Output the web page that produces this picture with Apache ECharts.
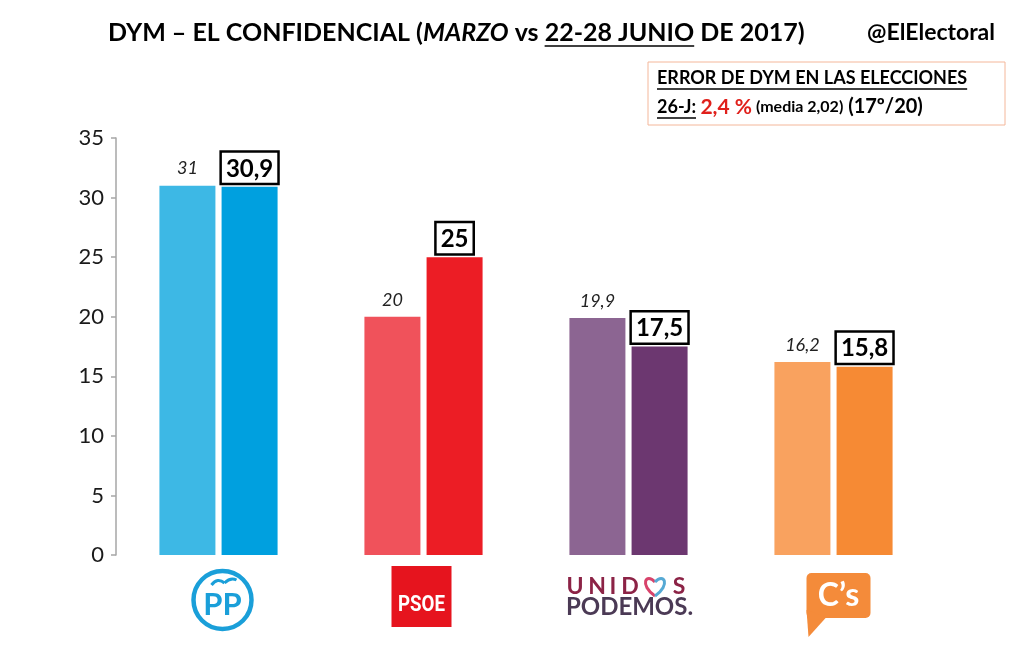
<!DOCTYPE html>
<html><head><meta charset="utf-8">
<script src="https://cdn.jsdelivr.net/npm/echarts@6/dist/echarts.min.js"></script>
<style>html,body{margin:0;padding:0;background:#fff}#c{width:1025px;height:650px}</style>
</head><body><div id="c"></div>
<script>
const categories = ['PP', 'PSOE', 'Unidos Podemos', 'Ciudadanos'];
const marzo = [31, 20, 19.9, 16.2];
const junio = [30.9, 25, 17.5, 15.8];
const yTicks = [0, 5, 10, 15, 20, 25, 30, 35];
const colorsMarzo = ['#3DB8E5', '#F0525B', '#8C6592', '#F9A25F'];
const colorsJunio = ['#00A0DF', '#EC1D25', '#6C3770', '#F68A34'];

const FONT = 'Lato, "Open Sans", sans-serif';
const chart = echarts.init(document.getElementById('c'), null, {renderer: 'canvas'});
const fmt = v => String(v).replace('.', ',');
const cv = document.createElement('canvas').getContext('2d');

function seq(x, y, segs) {
  const els = []; let cx = x;
  segs.forEach(s => {
    const font = (s.italic ? 'italic ' : '') + 'bold ' + s.size + 'px ' + FONT;
    cv.font = font;
    const w = cv.measureText(s.text).width;
    els.push({type: 'text', x: cx, y: y, z: 10, style: {text: s.text, font: font, fill: s.color || '#000',
      textAlign: 'left', textVerticalAlign: 'middle', align: 'left', verticalAlign: 'middle'}});
    if (s.underline) {
      const uw = cv.measureText(s.text.trimEnd()).width;
      els.push({type: 'line', z: 10, shape: {x1: cx, y1: y + s.uy, x2: cx + uw, y2: y + s.uy},
        style: {stroke: s.color || '#000', lineWidth: 1.6}});
    }
    cx += w;
  });
  return els;
}

chart.setOption({
  animation: false,
  grid: {left: 116, right: 89, top: 138, bottom: 95},
  xAxis: {type: 'category', data: categories, axisLine: {show: false}, axisTick: {show: false}, axisLabel: {show: false}},
  yAxis: {type: 'value', min: 0, max: 35, interval: 5,
    axisLine: {show: true, lineStyle: {color: '#A6A6A6', width: 1.5}},
    axisTick: {show: true, length: 5, lineStyle: {color: '#A6A6A6', width: 1.5}},
    splitLine: {show: false},
    axisLabel: {fontSize: 22, color: '#1a1a1a', margin: 12, fontFamily: FONT,
      formatter: v => yTicks.includes(v) ? String(v) : ''}},
  series: [
    {type: 'bar', name: 'Marzo', barWidth: 56, barGap: '11%',
      data: marzo.map((v, i) => ({value: v, itemStyle: {color: colorsMarzo[i]}})),
      label: {show: true, position: 'top', distance: 8, fontStyle: 'italic', fontSize: 18, color: '#222',
        fontFamily: FONT, formatter: p => fmt(p.value)}},
    {type: 'bar', name: 'Junio', barWidth: 56, barGap: '11%',
      data: junio.map((v, i) => ({value: v, itemStyle: {color: colorsJunio[i]}})),
      label: {show: true, position: 'top', distance: 4, fontWeight: 'bold', fontSize: 24, color: '#000',
        fontFamily: FONT, backgroundColor: '#fff', borderColor: '#000', borderWidth: 2.5,
        padding: [4, 4, 2, 4], formatter: p => fmt(p.value)}}
  ]
});

const px = categories.map(c => chart.convertToPixel({xAxisIndex: 0}, c));
let g = [];
// Title
g = g.concat(seq(108, 33, [
  {text: 'DYM – EL CONFIDENCIAL (', size: 25},
  {text: 'MARZO', size: 25, italic: true},
  {text: ' vs ', size: 25},
  {text: '22-28 JUNIO', size: 25, underline: true, uy: 13},
  {text: ' DE 2017)', size: 25}
]));
g.push({type: 'text', x: 995, y: 33, z: 10, style: {text: '@ElElectoral', font: 'bold 23px ' + FONT, fill: '#000',
  textAlign: 'right', textVerticalAlign: 'middle', align: 'right', verticalAlign: 'middle'}});
// Error box
g.push({type: 'rect', z: 5, shape: {x: 648, y: 62, width: 357, height: 63}, style: {fill: '#fff', stroke: '#F4B79A', lineWidth: 1}});
g = g.concat(seq(657, 78, [{text: 'ERROR DE DYM EN LAS ELECCIONES', size: 18, underline: true, uy: 11}]));
g = g.concat(seq(657, 107, [
  {text: '26-J:', size: 18, underline: true, uy: 11},
  {text: ' ', size: 18},
  {text: '2,4 %', size: 21, color: '#E0201B'},
  {text: ' (media 2,02)', size: 16},
  {text: ' (17º/20)', size: 20}
]));

// PP logo
const pp = px[0] + 4;
g.push({type: 'circle', z: 10, shape: {cx: pp, cy: 600, r: 29}, style: {fill: 'none', stroke: '#1A9FD9', lineWidth: 4.5}});
g.push({type: 'bezierCurve', z: 11, shape: {x1: pp - 11, y1: 585, x2: pp + 2, y2: 583, cpx1: pp - 5, cpy1: 577}, style: {fill: 'none', stroke: '#1A9FD9', lineWidth: 3}});
g.push({type: 'bezierCurve', z: 11, shape: {x1: pp + 2, y1: 583, x2: pp + 14, y2: 580, cpx1: pp + 8, cpy1: 577}, style: {fill: 'none', stroke: '#1A9FD9', lineWidth: 3}});
g.push({type: 'text', x: pp, y: 605, z: 11, style: {text: 'PP', font: 'bold 31px ' + FONT, fill: '#1A9FD9',
  textAlign: 'center', textVerticalAlign: 'middle', align: 'center', verticalAlign: 'middle'}});

// PSOE logo
const ps = px[1] - 2;
g.push({type: 'rect', z: 10, shape: {x: ps - 30, y: 566, width: 60, height: 61}, style: {fill: '#E6141E'}});
g.push({type: 'text', x: ps, y: 605, z: 11, scaleX: 0.85, style: {text: 'PSOE', font: 'bold 22px Roboto, sans-serif', fill: '#fff',
  textAlign: 'center', textVerticalAlign: 'middle', align: 'center', verticalAlign: 'middle'}});

// Podemos logo
const po = px[2];
const letters = [['U', -53.5], ['N', -31.5], ['I', -15.5], ['D', 1.5], ['S', 50.5]];
letters.forEach(l => g.push({type: 'text', x: po + l[1], y: 587, z: 11, style: {text: l[0], font: 'bold 23px ' + FONT, fill: '#8C2346',
  textAlign: 'center', textVerticalAlign: 'middle', align: 'center', verticalAlign: 'middle'}}));
const hx = po + 26.5;
g.push({type: 'bezierCurve', z: 11, shape: {x1: hx, y1: 596, x2: hx, y2: 582, cpx1: hx - 16, cpy1: 585, cpx2: hx - 9, cpy2: 572}, style: {fill: 'none', stroke: '#D8436B', lineWidth: 3}});
g.push({type: 'bezierCurve', z: 11, shape: {x1: hx, y1: 596, x2: hx, y2: 582, cpx1: hx + 16, cpy1: 585, cpx2: hx + 9, cpy2: 572}, style: {fill: 'none', stroke: '#56A9D4', lineWidth: 3}});
g.push({type: 'text', x: po + 1, y: 607, z: 11, style: {text: 'PODEMOS.', font: 'bold 24px ' + FONT, fill: '#4B3A55',
  textAlign: 'center', textVerticalAlign: 'middle', align: 'center', verticalAlign: 'middle'}});

// Cs logo
const cs = px[3] + 5;
g.push({type: 'rect', z: 10, shape: {x: cs - 32, y: 573, width: 64, height: 45, r: 5}, style: {fill: '#F48B3A'}});
g.push({type: 'polygon', z: 10, shape: {points: [[cs - 32, 610], [cs - 30, 637], [cs - 12, 617]]}, style: {fill: '#F48B3A'}});
g.push({type: 'text', x: cs, y: 596, z: 11, style: {text: 'C’s', font: 'bold 32px ' + FONT, fill: '#fff',
  textAlign: 'center', textVerticalAlign: 'middle', align: 'center', verticalAlign: 'middle'}});

chart.setOption({graphic: g});
</script></body></html>
